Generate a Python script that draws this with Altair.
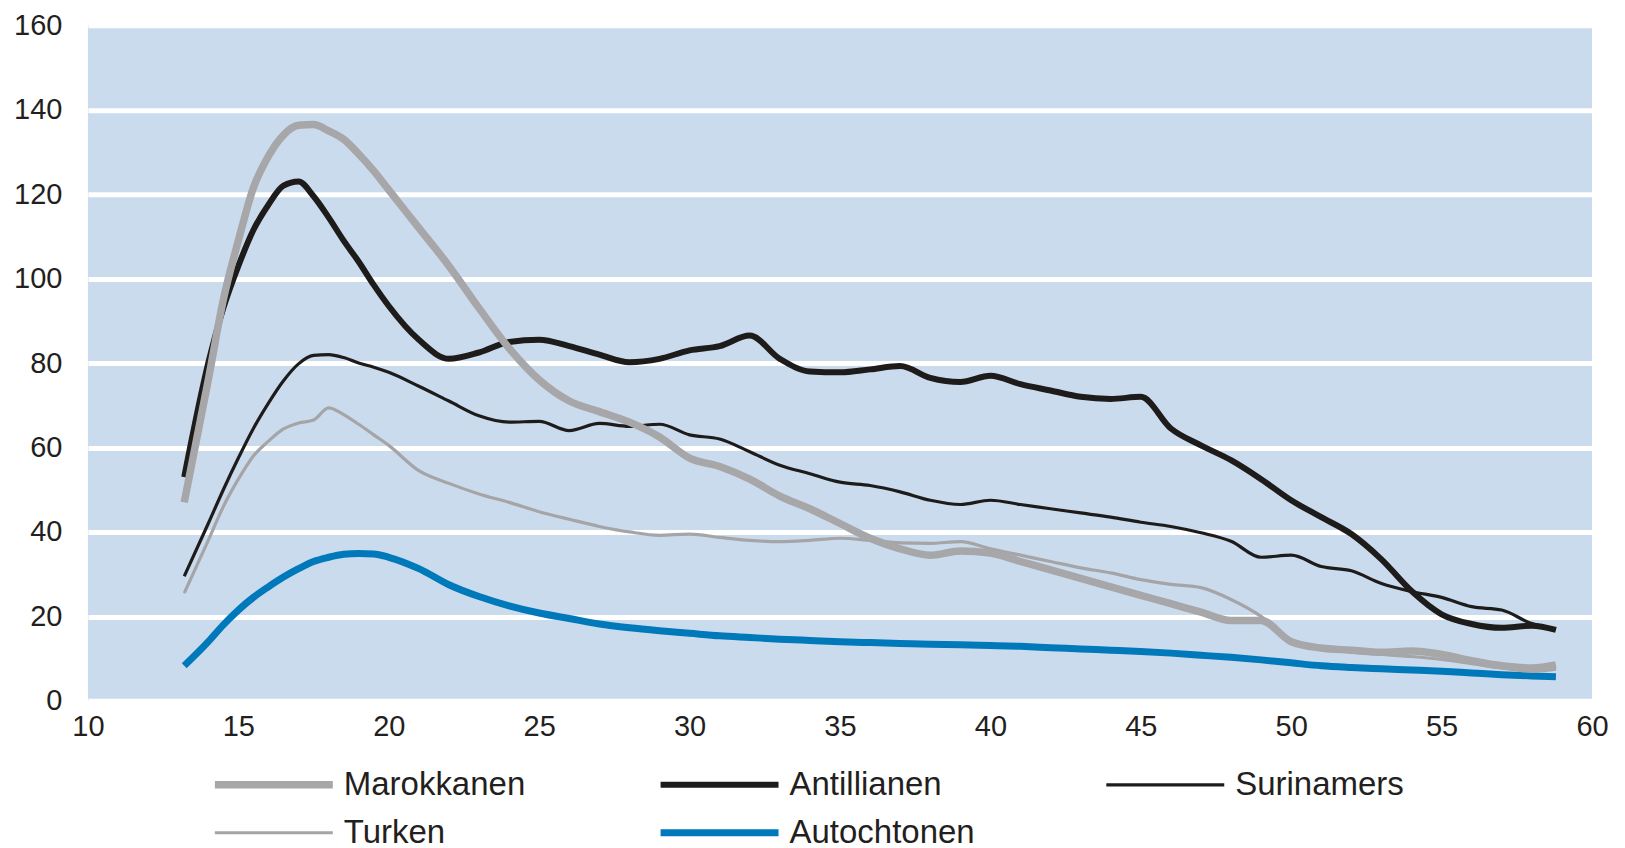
import altair as alt
import pandas as pd

ages = [13.2, 14, 14.5, 15, 15.5, 16, 16.5, 17, 17.5, 18, 18.5, 19, 19.5,
        20, 21, 22, 23, 24, 25, 26, 27, 28, 29,
        30, 31, 32, 33, 34, 35, 36, 37, 38, 39,
        40, 41, 42, 43, 44, 45, 46, 47, 48, 49,
        50, 51, 52, 53, 54, 55, 56, 57, 58, 58.8]

marokkanen = [47, 76, 95, 109, 121.5, 129, 134, 136.3, 136.5, 135, 133, 129.5, 125.5,
              121, 112, 103, 93, 83.5, 76, 71, 68.5, 66, 62.5,
              57.5, 55.5, 52.5, 48.5, 45.5, 42, 38.5, 36, 34.5, 35.5,
              35, 33, 31, 29, 27, 25, 23, 21, 19, 19,
              14, 12.5, 12, 11.5, 11.8, 11, 9.5, 8.3, 7.8, 8.5]

antillianen = [53, 80, 93, 103, 111.5, 117.5, 122, 123, 119.5, 114.5, 109, 104, 98.5,
               93.5, 85.5, 81, 82.5, 85, 85.5, 84, 82, 80.2, 81,
               83, 84, 86.5, 81, 78, 77.8, 78.5, 79.3, 76.5, 75.5,
               77, 75, 73.5, 72, 71.5, 72, 64.5, 60.5, 57, 52.5,
               47.5, 43.5, 39.5, 33.5, 26, 20.5, 18.2, 17.3, 17.8, 16.8]

surinamers = [29.5, 42, 50, 57.5, 64.5, 70.5, 75.8, 79.8, 81.8, 82, 81.3, 80, 79,
              77.8, 74.5, 71, 67.5, 66, 66.2, 64, 65.7, 65, 65.5,
              63, 62, 59, 55.8, 53.8, 51.8, 51, 49.5, 47.5, 46.5,
              47.5, 46.5, 45.5, 44.5, 43.5, 42.3, 41.3, 39.8, 37.8, 34,
              34.5, 31.8, 30.8, 27.8, 25.9, 24.5, 22.3, 21.5, 18.3, 17]

turken = [25.5, 38, 46, 52.5, 58, 61.5, 64.4, 65.8, 66.5, 69.4, 67.8, 65.5, 63,
          60.5, 54.5, 51.5, 49, 47, 44.8, 43, 41.3, 40, 39.2,
          39.5, 38.7, 38, 37.7, 38, 38.5, 38, 37.4, 37.3, 37.7,
          36, 34.5, 33, 31.5, 30.3, 28.7, 27.6, 26.8, 24, 20,
          14.5, 12.5, 11.5, 11, 10.5, 9.8, 8.8, 7.8, 7, 7.5]

autochtonen = [8.3, 14, 18, 21.5, 24.5, 27, 29.3, 31.3, 33, 34, 34.7, 34.9, 34.8,
               34, 31.3, 27.5, 24.7, 22.5, 20.8, 19.5, 18.2, 17.3, 16.6,
               16, 15.4, 15, 14.6, 14.3, 14, 13.8, 13.6, 13.4, 13.3,
               13.1, 12.9, 12.6, 12.3, 12, 11.7, 11.3, 10.8, 10.3, 9.7,
               9, 8.3, 7.9, 7.6, 7.3, 7, 6.6, 6.2, 5.9, 5.7]

# legend fills column by column: (Marokkanen, Turken), (Antillianen, Autochtonen), (Surinamers)
legend_order = ["Marokkanen", "Turken", "Antillianen", "Autochtonen", "Surinamers"]
colors = ["#a7a7a9", "#a5a5a7", "#1e1b1b", "#0079bb", "#1e1b1b"]
widths = [7.5, 3.2, 6, 7, 3.2]

series_data = {
    "Autochtonen": autochtonen,
    "Turken": turken,
    "Surinamers": surinamers,
    "Antillianen": antillianen,
    "Marokkanen": marokkanen,
}

rows = []
for name, vals in series_data.items():
    for a, v in zip(ages, vals):
        rows.append({"series": name, "age": a, "value": v})
df = pd.DataFrame(rows)

FONT = "Liberation Sans"
TXT = "#231f20"

leg = alt.Legend(
    title=None, orient="none", legendX=123, legendY=740, columns=3,
    symbolType="stroke", symbolSize=13924, clipHeight=40, rowPadding=8,
    columnPadding=127, gridAlign="all", labelFontSize=33, labelFont=FONT,
    labelColor=TXT, labelOffset=7, labelLimit=0, padding=0,
)

chart = alt.Chart(df).mark_line(
    interpolate="monotone", strokeCap="butt", strokeJoin="round"
).encode(
    x=alt.X("age:Q",
            scale=alt.Scale(domain=[10, 60], nice=False, zero=False),
            axis=alt.Axis(values=[10, 15, 20, 25, 30, 35, 40, 45, 50, 55, 60],
                          title=None, grid=False, ticks=False, domain=False,
                          labelPadding=12, labelFontSize=29, labelFont=FONT,
                          labelColor=TXT, labelFlush=False)),
    y=alt.Y("value:Q",
            scale=alt.Scale(domain=[0, 160], nice=False),
            axis=alt.Axis(values=[0, 20, 40, 60, 80, 100, 120, 140, 160],
                          title=None, grid=True, gridColor="white", gridWidth=5,
                          gridOpacity=1, ticks=False, domain=False,
                          labelPadding=26, labelFontSize=29, labelFont=FONT,
                          labelColor=TXT, labelBaseline="middle")),
    color=alt.Color("series:N", scale=alt.Scale(domain=legend_order, range=colors), legend=leg),
    strokeWidth=alt.StrokeWidth("series:N",
                                scale=alt.Scale(type="ordinal", domain=legend_order, range=widths),
                                legend=leg),
).properties(
    width=1505, height=676,
    autosize="none",
    padding={"left": 80, "top": 17, "right": 25, "bottom": 160},
).configure_view(
    fill="#cbdbee", stroke=None
)

chart.save("out.html", embed_options={"renderer": "svg", "actions": False})
